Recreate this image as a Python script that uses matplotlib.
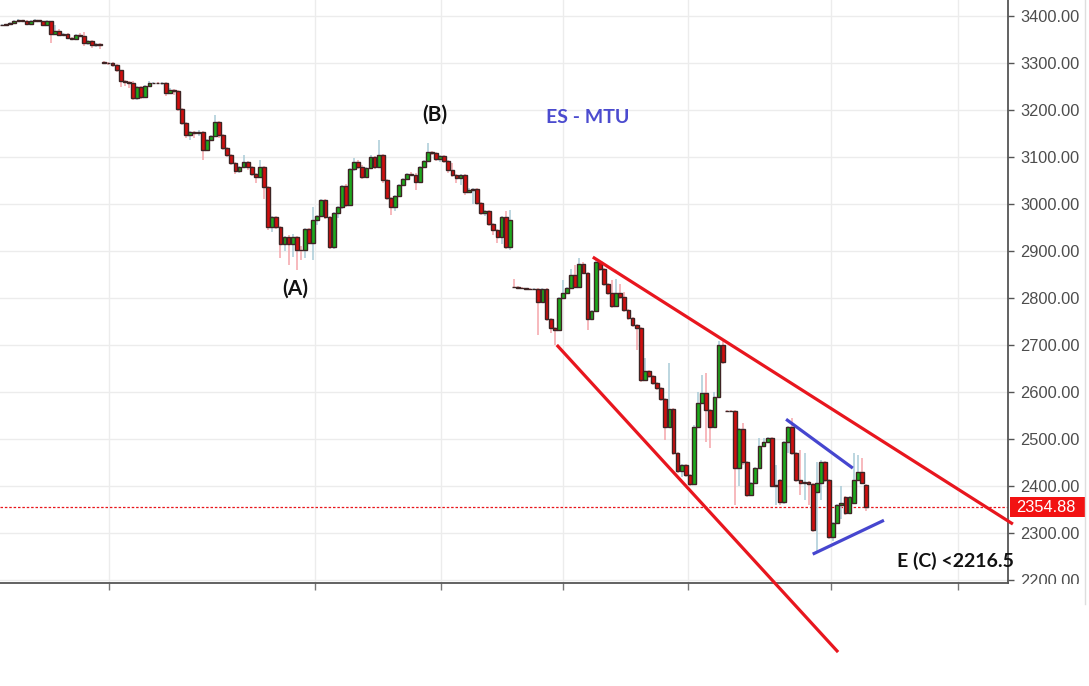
import numpy as np
import matplotlib.pyplot as plt
from matplotlib.lines import Line2D
from matplotlib.patches import Rectangle
from matplotlib.transforms import blended_transform_factory

# ES futures bars, oldest first
opens = [
    3380, 3381, 3382, 3386, 3390, 3391, 3390, 3384, 3390, 3391, 3389, 3381, 3389,
    3362, 3368, 3360, 3362, 3353, 3352, 3360, 3358, 3343, 3347, 3338, 3341,
    3303, 3301, 3300, 3296, 3285, 3262, 3260, 3258, 3226, 3249, 3228, 3251, 3257,
    3258, 3257, 3258, 3236, 3242, 3240, 3202, 3172, 3147, 3153, 3150, 3153, 3115,
    3136, 3145, 3174, 3147, 3119, 3104, 3087, 3070, 3079, 3089, 3079, 3064, 3057,
    3079, 3036, 2951, 2972, 2951, 2915, 2930, 2915, 2930, 2902, 2902, 2947, 2917,
    2966, 2975, 3009, 2972, 2909, 2981, 2994, 3038, 2998, 3074, 3089, 3079, 3057,
    3077, 3100, 3079, 3104, 3051, 3013, 2994, 3017, 3040, 3053, 3064, 3062, 3047,
    3079, 3091, 3110, 3108, 3095, 3102, 3091, 3072, 3062, 3055, 3062, 3026, 3030,
    3032, 3002, 2981, 2985, 2957, 2945, 2930, 2972, 2909,
    2823, 2823, 2822, 2821, 2819, 2819, 2820, 2791, 2819, 2755, 2736, 2732, 2800,
    2811, 2821, 2849, 2823, 2872, 2853, 2755, 2772, 2877, 2862, 2830, 2811, 2783,
    2811, 2802, 2774, 2757, 2743, 2736, 2626, 2645, 2634, 2619, 2609, 2585, 2526,
    2564, 2470, 2432, 2445, 2423, 2404, 2526, 2577, 2598, 2562, 2526, 2590, 2700,
    2560, 2560, 2560, 2438, 2521, 2451, 2381, 2406, 2438, 2485, 2494, 2502, 2400,
    2413, 2366, 2494, 2526, 2470, 2413, 2406, 2409, 2404, 2387, 2406, 2451, 2413,
    2291, 2321, 2360, 2377, 2343, 2364, 2413, 2430, 2402,
]
closes = [
    3381, 3382, 3386, 3390, 3391, 3390, 3384, 3390, 3391, 3389, 3381, 3389, 3362,
    3368, 3360, 3362, 3353, 3352, 3360, 3358, 3343, 3347, 3338, 3341, 3338,
    3301, 3300, 3296, 3285, 3262, 3260, 3258, 3226, 3249, 3228, 3251, 3257, 3258,
    3257, 3258, 3236, 3242, 3240, 3202, 3172, 3147, 3153, 3150, 3153, 3115, 3136,
    3145, 3174, 3147, 3119, 3104, 3087, 3070, 3079, 3089, 3079, 3064, 3057, 3079,
    3036, 2951, 2972, 2951, 2915, 2930, 2915, 2930, 2902, 2902, 2947, 2917, 2966,
    2975, 3009, 2972, 2909, 2981, 2994, 3038, 2998, 3074, 3089, 3079, 3057, 3077,
    3100, 3079, 3104, 3051, 3013, 2994, 3017, 3040, 3053, 3064, 3062, 3047, 3079,
    3091, 3110, 3108, 3095, 3102, 3091, 3072, 3062, 3055, 3062, 3026, 3030, 3032,
    3002, 2981, 2985, 2957, 2945, 2930, 2972, 2909, 2966,
    2823, 2822, 2821, 2819, 2819, 2820, 2791, 2819, 2755, 2736, 2732, 2800, 2811,
    2821, 2849, 2823, 2872, 2853, 2755, 2772, 2877, 2862, 2830, 2811, 2783, 2811,
    2802, 2774, 2757, 2743, 2736, 2626, 2645, 2634, 2619, 2609, 2585, 2526, 2564,
    2470, 2432, 2445, 2423, 2404, 2526, 2577, 2598, 2562, 2526, 2590, 2700, 2664,
    2560, 2560, 2438, 2521, 2451, 2381, 2406, 2438, 2485, 2494, 2502, 2400, 2402,
    2366, 2494, 2526, 2470, 2413, 2406, 2409, 2404, 2306, 2406, 2451, 2413, 2291,
    2321, 2360, 2364, 2343, 2377, 2413, 2430, 2406, 2354.88,
]
highs = [
    3382, 3383, 3387, 3391, 3393, 3392, 3391, 3392, 3393, 3392, 3390, 3391, 3390,
    3380, 3372, 3364, 3364, 3355, 3362, 3364, 3365, 3349, 3349, 3343, 3342,
    3305, 3303, 3302, 3297, 3286, 3264, 3262, 3262, 3251, 3250, 3253, 3262, 3260,
    3260, 3260, 3260, 3247, 3245, 3243, 3204, 3174, 3156, 3155, 3157, 3155, 3138,
    3147, 3189, 3176, 3149, 3121, 3106, 3089, 3081, 3104, 3091, 3081, 3066, 3094,
    3081, 3038, 2974, 2974, 2953, 2932, 2934, 2936, 2932, 2910, 2949, 2949, 2994,
    2977, 3011, 3011, 2974, 2983, 2996, 3040, 3043, 3077, 3098, 3093, 3083, 3079,
    3104, 3102, 3136, 3106, 3053, 3015, 3019, 3042, 3055, 3066, 3068, 3066, 3081,
    3093, 3130, 3112, 3110, 3104, 3104, 3093, 3087, 3064, 3064, 3064, 3034, 3034,
    3034, 3004, 2987, 2987, 2959, 2947, 2974, 2985, 2987,
    2840, 2826, 2824, 2822, 2821, 2822, 2822, 2821, 2822, 2757, 2738, 2802, 2838,
    2823, 2862, 2870, 2885, 2877, 2855, 2774, 2880, 2879, 2864, 2832, 2838, 2840,
    2830, 2813, 2776, 2759, 2745, 2738, 2672, 2647, 2636, 2621, 2611, 2587, 2662,
    2566, 2472, 2447, 2447, 2425, 2530, 2600, 2636, 2640, 2564, 2600, 2708, 2708,
    2562, 2562, 2562, 2523, 2534, 2453, 2408, 2440, 2502, 2502, 2504, 2504, 2445,
    2415, 2496, 2528, 2545, 2472, 2477, 2470, 2411, 2406, 2451, 2455, 2453, 2415,
    2323, 2362, 2400, 2379, 2379, 2470, 2466, 2460, 2404,
]
lows = [
    3378, 3379, 3381, 3385, 3389, 3388, 3382, 3383, 3389, 3387, 3379, 3380, 3343,
    3360, 3357, 3358, 3350, 3350, 3350, 3356, 3336, 3338, 3332, 3334, 3330,
    3298, 3296, 3292, 3280, 3249, 3250, 3247, 3221, 3221, 3224, 3226, 3249, 3255,
    3255, 3254, 3230, 3233, 3232, 3198, 3168, 3140, 3136, 3140, 3145, 3094, 3112,
    3133, 3143, 3140, 3115, 3100, 3083, 3064, 3066, 3077, 3072, 3060, 3045, 3055,
    3011, 2945, 2940, 2947, 2885, 2900, 2870, 2888, 2860, 2880, 2885, 2915, 2881,
    2955, 2972, 2968, 2905, 2905, 2970, 2990, 2994, 2996, 3070, 3074, 3053, 3055,
    3074, 3075, 3077, 3045, 3009, 2977, 2985, 3015, 3038, 3051, 3060, 3030, 3045,
    3077, 3089, 3104, 3091, 3090, 3087, 3066, 3058, 3045, 3040, 3020, 3024, 3000,
    2998, 2977, 2975, 2953, 2935, 2918, 2915, 2905, 2902,
    2821, 2820, 2819, 2817, 2817, 2817, 2721, 2789, 2750, 2725, 2700, 2730, 2798,
    2809, 2819, 2821, 2821, 2851, 2732, 2753, 2770, 2858, 2826, 2807, 2779, 2781,
    2798, 2770, 2753, 2739, 2689, 2622, 2624, 2630, 2615, 2605, 2581, 2498, 2524,
    2466, 2428, 2420, 2419, 2400, 2402, 2524, 2575, 2494, 2480, 2524, 2588, 2660,
    2558, 2558, 2360, 2400, 2445, 2377, 2379, 2404, 2436, 2483, 2492, 2398, 2360,
    2360, 2362, 2470, 2466, 2409, 2380, 2370, 2360, 2302, 2260, 2370, 2409, 2287,
    2283, 2319, 2330, 2339, 2341, 2362, 2411, 2404, 2347,
]
assert len(opens) == len(closes) == len(highs) == len(lows)

last_price = 2354.88
price_ticks = [2200, 2300, 2400, 2500, 2600, 2700, 2800, 2900, 3000, 3100, 3200, 3300, 3400]
# session boundaries, in bar units
time_ticks = [26.1, 76.4, 107.2, 137.0, 167.5, 202.4, 233.5]

# hand-drawn trend lines: (bar, price) end points
channel_top = ([144.3, 246.9], [2887, 2319])
channel_bottom = ([135.5, 204.2], [2700, 2046.6])
wedge_top = ([191.5, 207.8], [2542, 2438])
wedge_bottom = ([198.0, 215.4], [2255, 2327])

notes = [
    ("(A)", 71.5, 2819, "#111111", "center", 15),
    ("(B)", 105.7, 3189, "#111111", "center", 15),
    ("ES - MTU", 143.1, 3183, "#4b4bcf", "center", 14),
    ("E (C) <2216.5", 218.6, 2240, "#111111", "left", 14),
]

fig = plt.figure(figsize=(10.89, 6.86), dpi=100)
ax = fig.add_axes([0, 103 / 686, 1008 / 1089, 583 / 686])

o = np.array(opens, dtype=float)
c = np.array(closes, dtype=float)
x = np.arange(len(c))
up = c > o

wick_colors = np.where(up, "#a9cbd7", "#f5a5ab")
ax.vlines(x, lows, highs, colors=wick_colors, lw=1.1, zorder=2)
body_colors = np.where(up, "#1daa1d", "#d10e0e")
ax.bar(x, c - o, bottom=o, width=0.92, color=body_colors,
       edgecolor="#3e2424", linewidth=1.0, zorder=3)

ax.axhline(last_price, color="#e8161b", lw=0.9, ls=(0, (2, 1.5)), zorder=1.5)

for xs, ys, col in [(channel_top[0], channel_top[1], "#e8161e"),
                    (channel_bottom[0], channel_bottom[1], "#e8161e"),
                    (wedge_top[0], wedge_top[1], "#4646cf"),
                    (wedge_bottom[0], wedge_bottom[1], "#4646cf")]:
    ax.plot(xs, ys, color=col, lw=2.3, clip_on=False, zorder=4,
            solid_capstyle="butt")

for text, tx, ty, col, ha, size in notes:
    ax.text(tx, ty, text, color=col, fontsize=size, fontweight="bold",
            family="Lato", ha=ha, va="center", zorder=5)

ax.set_xlim(-0.49, 245.7)
ax.set_ylim(2193.6, 3434)

ax.set_yticks(price_ticks)
ax.set_yticklabels([f"{t:.2f}" for t in price_ticks])
ax.set_xticks(time_ticks)
ax.set_xticklabels([])
ax.yaxis.tick_right()
ax.grid(color="#ececec", lw=1)
ax.set_axisbelow(True)

ax.tick_params(axis="y", direction="out", length=4, width=1, color="#555555",
               labelcolor="#4d4d4d", labelsize=11.8, pad=5)
ax.tick_params(axis="x", direction="out", length=5, width=1, color="#777777")
for t in ax.yaxis.get_major_ticks():
    t.label2.set_family("Liberation Sans")
for side in ["left", "top"]:
    ax.spines[side].set_visible(False)
for side in ["right", "bottom"]:
    ax.spines[side].set_color("#555555")
    ax.spines[side].set_linewidth(1.3)

# last price tag on the axis
tag = blended_transform_factory(ax.transAxes, ax.transData)
ax.add_patch(Rectangle((1.002, last_price - 21.5), 0.0745, 43, transform=tag,
                       fc="#f21212", ec="none", clip_on=False, zorder=6))
ax.text(1.008, last_price, f"{last_price:.2f}", transform=tag, color="white",
        fontsize=11.8, family="Liberation Sans", ha="left", va="center",
        clip_on=False, zorder=7)

# the price pane cuts the lowest axis label in half
fig.add_artist(Rectangle((1009 / 1089, 0), 76 / 1089, 102 / 686,
                         transform=fig.transFigure, fc="white", ec="none",
                         zorder=10))
fig.add_artist(Line2D([1085 / 1089] * 2, [1, 0.12], color="#dedede", lw=1,
                      zorder=11))

fig.savefig("out.png", dpi=100)
